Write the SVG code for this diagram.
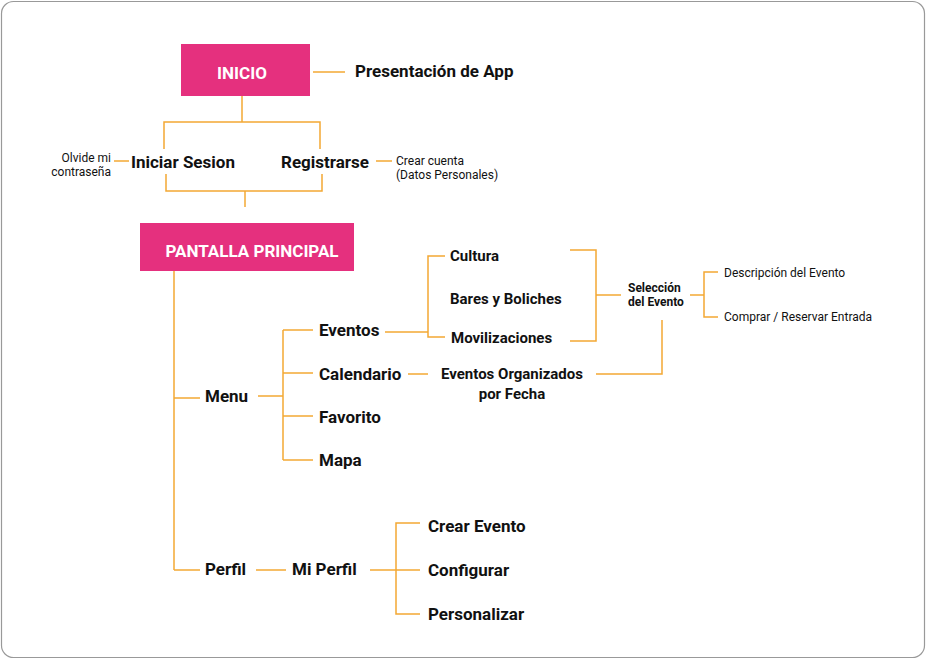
<svg xmlns="http://www.w3.org/2000/svg" width="926" height="659" viewBox="0 0 926 659">
<style>
.c line,.c polyline{stroke:#F3A833;stroke-width:1.5;fill:none}
.box{fill:#E5307E}
.w{fill:#fff;font-family:Roboto,"Liberation Sans",sans-serif;font-weight:bold;font-size:17px}
.b{fill:#111;font-family:Roboto,"Liberation Sans",sans-serif;font-weight:bold;font-size:17px}
.m{fill:#111;font-family:Roboto,"Liberation Sans",sans-serif;font-weight:bold;font-size:15px}
.s{fill:#111;font-family:Roboto,"Liberation Sans",sans-serif;font-size:12px}
.sb{fill:#111;font-family:Roboto,"Liberation Sans",sans-serif;font-weight:bold;font-size:12px}
</style>
<rect x="0" y="0" width="926" height="659" fill="#fff"/>
<rect x="1.5" y="1.5" width="923" height="656" rx="12" fill="#fff" stroke="#999" stroke-width="1.2"/>
<g class="c">
<line x1="313" y1="72" x2="345" y2="72"/>
<line x1="242" y1="96" x2="242" y2="122"/>
<polyline points="164,149 164,122 320,122 320,149"/>
<line x1="114" y1="161" x2="129" y2="161"/>
<line x1="376" y1="161" x2="392" y2="161"/>
<polyline points="166,174 166,191 322,191 322,174"/>
<line x1="245" y1="191" x2="245" y2="207"/>
<line x1="174" y1="271" x2="174" y2="570"/>
<line x1="174" y1="398" x2="200" y2="398"/>
<line x1="174" y1="570" x2="200" y2="570"/>
<line x1="258" y1="396" x2="283" y2="396"/>
<line x1="283" y1="330" x2="283" y2="460"/>
<line x1="283" y1="330" x2="313" y2="330"/>
<line x1="283" y1="373" x2="313" y2="373"/>
<line x1="283" y1="416" x2="313" y2="416"/>
<line x1="283" y1="460" x2="313" y2="460"/>
<line x1="385" y1="332" x2="428" y2="332"/>
<polyline points="445,256 428,256 428,337 445,337"/>
<polyline points="570,250 596,250 596,341 570,341"/>
<line x1="596" y1="295" x2="621" y2="295"/>
<line x1="690" y1="295" x2="704" y2="295"/>
<polyline points="718,272 704,272 704,317 718,317"/>
<polyline points="596,374 662,374 662,320"/>
<line x1="408" y1="374" x2="428" y2="374"/>
<line x1="256" y1="570" x2="286" y2="570"/>
<line x1="370" y1="570" x2="420" y2="570"/>
<polyline points="420,523 396,523 396,614 420,614"/>
</g>
<g id="inicio"><rect class="box" x="181" y="44" width="129" height="52"/><text class="w" x="242" y="79" text-anchor="middle">INICIO</text></g>
<g id="presentacion"><text class="b" x="355" y="77">Presentación de App</text></g>
<g id="olvide"><text class="s" x="111" y="162" text-anchor="end">Olvide mi</text><text class="s" x="111" y="176" text-anchor="end">contraseña</text></g>
<g id="iniciar"><text class="b" x="131" y="168">Iniciar Sesion</text></g>
<g id="registrarse"><text class="b" x="281" y="168">Registrarse</text></g>
<g id="crear"><text class="s" x="396" y="165">Crear cuenta</text><text class="s" x="396" y="179">(Datos Personales)</text></g>
<g id="pantalla"><rect class="box" x="140" y="223" width="214" height="48"/><text class="w" x="252" y="257" text-anchor="middle">PANTALLA PRINCIPAL</text></g>
<g id="menu"><text class="b" x="205" y="402">Menu</text></g>
<g id="eventos"><text class="b" x="319" y="336">Eventos</text></g>
<g id="calendario"><text class="b" x="319" y="380">Calendario</text></g>
<g id="favorito"><text class="b" x="319" y="423">Favorito</text></g>
<g id="mapa"><text class="b" x="319" y="466">Mapa</text></g>
<g id="cultura"><text class="m" x="450" y="261">Cultura</text></g>
<g id="bares"><text class="m" x="450" y="304">Bares y Boliches</text></g>
<g id="movilizaciones"><text class="m" x="451" y="343">Movilizaciones</text></g>
<g id="seleccion"><text class="sb" x="628" y="292">Selección</text><text class="sb" x="628" y="306">del Evento</text></g>
<g id="descripcion"><text class="s" x="724" y="277">Descripción del Evento</text></g>
<g id="comprar"><text class="s" x="724" y="321">Comprar / Reservar Entrada</text></g>
<g id="organizados"><text class="m" x="512" y="379" text-anchor="middle">Eventos Organizados</text><text class="m" x="512" y="399" text-anchor="middle">por Fecha</text></g>
<g id="perfil"><text class="b" x="205" y="575">Perfil</text></g>
<g id="miperfil"><text class="b" x="292" y="575">Mi Perfil</text></g>
<g id="crearevento"><text class="b" x="428" y="532">Crear Evento</text></g>
<g id="configurar"><text class="b" x="428" y="576">Configurar</text></g>
<g id="personalizar"><text class="b" x="428" y="620">Personalizar</text></g>
</svg>
